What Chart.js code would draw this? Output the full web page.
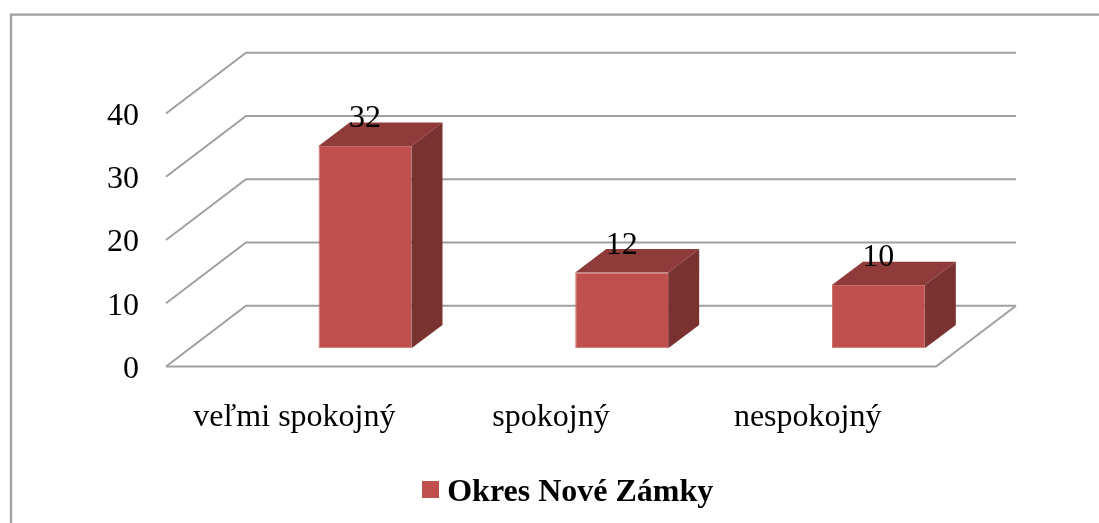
<!DOCTYPE html>
<html lang="sk">
<head>
<meta charset="utf-8">
<title>Okres Nové Zámky</title>
<script src="https://cdn.jsdelivr.net/npm/chart.js@4"></script>
<style>
    html, body { margin: 0; padding: 0; background: #fff; overflow: hidden; }
    canvas { display: block; }
</style>
</head>
<body>
<canvas id="chart" width="1099" height="523"></canvas>
<script>
const categories = ["veľmi spokojný", "spokojný", "nespokojný"];
const seriesName = "Okres Nové Zámky";
const seriesValues = [32, 12, 10];
const yTicks = [0, 10, 20, 30, 40];

const FONT = "'Liberation Serif', 'Times New Roman', serif";
const GRID = "#a0a0a0";
const FRONT = "#c0504d";
const TOP = "#8f3b39";
const SIDE = "#7a3230";

// the back wall sits this far behind the front edge of the floor
const WALL_DX = 80;
const WALL_DY = -60.8;
// bars stand partway into the floor
const BAR_DX = 70.7;
const BAR_DY = -18.2;
const BAR_DEPTH_DX = 31;
const BAR_DEPTH_DY = -23.4;

// legend marker: the library centres a canvas point style on its slot,
// which is how the text gets this close to the square. The spare 6px under
// the square lifts it to the middle of the text.
const legendMarker = document.createElement("canvas");
legendMarker.width = 17;
legendMarker.height = 23;
const markerCtx = legendMarker.getContext("2d");
markerCtx.fillStyle = FRONT;
markerCtx.fillRect(0, 0, 17, 17);

function line(ctx, points) {
    ctx.beginPath();
    points.forEach((p, i) => i ? ctx.lineTo(p[0], p[1]) : ctx.moveTo(p[0], p[1]));
    ctx.stroke();
}

function poly(ctx, points, color) {
    ctx.fillStyle = color;
    ctx.beginPath();
    points.forEach((p, i) => i ? ctx.lineTo(p[0], p[1]) : ctx.moveTo(p[0], p[1]));
    ctx.closePath();
    ctx.fill();
}

const frame3d = {
    id: "frame3d",

    afterLayout(chart) {
        // legend is centred under the picture, not under the plot
        const legend = chart.legend;
        const shift = 572 - (legend.left + legend.right) / 2;
        legend.left += shift;
        legend.right += shift;
        const h = legend.height;
        legend.top = 492.5 - h / 2;
        legend.bottom = legend.top + h;
    },

    beforeDraw(chart) {
        const ctx = chart.ctx;
        ctx.save();
        ctx.fillStyle = "#fff";
        ctx.fillRect(0, 0, chart.width, chart.height);
        ctx.strokeStyle = "#a0a0a0";
        ctx.lineWidth = 2.4;
        line(ctx, [[11, chart.height], [11, 14.6], [chart.width, 14.6]]);
        ctx.restore();
    },

    beforeDatasetsDraw(chart) {
        const ctx = chart.ctx;
        const y = chart.scales.y;
        const left = chart.chartArea.left;
        const right = chart.chartArea.right;
        ctx.save();
        ctx.strokeStyle = GRID;
        ctx.lineWidth = 2;
        yTicks.forEach(t => {
            const py = y.getPixelForValue(t);
            line(ctx, [[left, py], [left + WALL_DX, py + WALL_DY], [right + WALL_DX, py + WALL_DY]]);
        });
        const floor = y.getPixelForValue(0);
        line(ctx, [[left, floor], [right, floor], [right + WALL_DX, floor + WALL_DY]]);
        ctx.restore();

        // everything the library draws for the bars is moved onto the floor
        ctx.save();
        ctx.translate(BAR_DX, BAR_DY);
    },

    afterDatasetsDraw(chart) {
        const ctx = chart.ctx;
        ctx.restore();

        const bars = chart.getDatasetMeta(0).data;
        bars.forEach(bar => {
            const l = bar.x - bar.width / 2 + BAR_DX;
            const r = bar.x + bar.width / 2 + BAR_DX;
            const t = bar.y + BAR_DY;
            const b = bar.base + BAR_DY;
            const dx = BAR_DEPTH_DX;
            const dy = BAR_DEPTH_DY;
            poly(ctx, [[l, t], [l + dx, t + dy], [r + dx, t + dy], [r, t]], TOP);
            poly(ctx, [[r, t], [r + dx, t + dy], [r + dx, b + dy], [r, b]], SIDE);
        });

        ctx.save();
        ctx.fillStyle = "#000";
        ctx.font = "32px " + FONT;
        ctx.textAlign = "center";
        ctx.textBaseline = "middle";
        bars.forEach((bar, i) => {
            ctx.fillText(seriesValues[i], bar.x + BAR_DX, bar.y + BAR_DY - 27);
        });
        ctx.restore();
    }
};

new Chart(document.getElementById("chart"), {
    type: "bar",
    data: {
        labels: categories,
        datasets: [{
            label: seriesName,
            data: seriesValues,
            backgroundColor: FRONT,
            borderColor: "#ca6c69",
            borderWidth: 1,
            borderSkipped: "right",
            pointStyle: legendMarker,
            barPercentage: 1,
            categoryPercentage: 0.362
        }]
    },
    options: {
        responsive: false,
        animation: false,
        layout: { padding: { left: 0, top: 113.5, right: 163, bottom: 0 } },
        plugins: {
            tooltip: { enabled: false },
            legend: {
                position: "bottom",
                labels: {
                    usePointStyle: true,
                    pointStyleWidth: 0.5,
                    boxHeight: 17,
                    color: "#000",
                    font: { family: FONT, size: 32, weight: "bold" }
                }
            }
        },
        scales: {
            x: {
                grid: { display: false },
                border: { display: false },
                ticks: {
                    color: "#000",
                    padding: 24,
                    maxRotation: 0,
                    font: { family: FONT, size: 32 }
                },
                afterFit(scale) {
                    scale.height = 156.5 - scale.chart.legend.height;
                }
            },
            y: {
                min: 0,
                max: 40,
                grid: { display: false },
                border: { display: false },
                ticks: {
                    stepSize: 10,
                    color: "#000",
                    padding: 19,
                    labelOffset: 3,
                    font: { family: FONT, size: 32 }
                },
                afterFit(scale) {
                    scale.width = 166;
                }
            }
        }
    },
    plugins: [frame3d]
});
</script>
</body>
</html>
